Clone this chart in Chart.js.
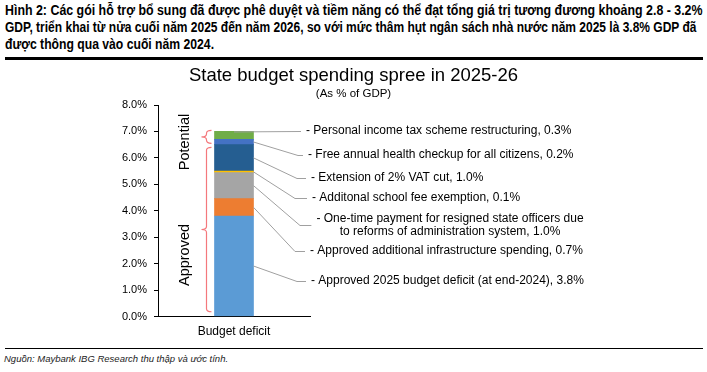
<!DOCTYPE html>
<html>
<head>
<meta charset="utf-8">
<script src="https://cdn.jsdelivr.net/npm/chart.js@4.4.1/dist/chart.umd.min.js"></script>
<style>
  body { margin: 0; background: #fff; }
  #page { position: relative; width: 707px; height: 372px; overflow: hidden; font-family: 'Liberation Sans', Arial, sans-serif; color: #000; }
  .hl { position: absolute; left: 5px; font: bold 14px 'Liberation Sans', Arial, sans-serif; line-height: 17px; white-space: nowrap; transform-origin: 0 0; }
  #rule1 { position: absolute; left: 5px; top: 57px; width: 698px; height: 3px; background: #000; }
  #title { position: absolute; left: 0; top: 64px; width: 707px; text-align: center; font-size: 18.5px; line-height: 22px; }
  #sub { position: absolute; left: 0; top: 86px; width: 707px; text-align: center; font-size: 11.5px; line-height: 14px; }
  #chart { position: absolute; left: 0; top: 60px; }
  #rule2 { position: absolute; left: 5px; top: 348px; width: 698px; height: 1px; background: #000; }
  #src { position: absolute; left: 4px; top: 353px; font-size: 9.5px; line-height: 12px; font-style: italic; color: #222; }
</style>
</head>
<body>
<div id="page">
  <div class="hl" style="top:2px; transform: scaleX(0.885);">Hình 2: Các gói hỗ trợ bổ sung đã được phê duyệt và tiềm năng có thể đạt tổng giá trị tương đương khoảng 2.8 - 3.2%</div>
  <div class="hl" style="top:19px; transform: scaleX(0.857);">GDP, triển khai từ nửa cuối năm 2025 đến năm 2026, so với mức thâm hụt ngân sách nhà nước năm 2025 là 3.8% GDP đã</div>
  <div class="hl" style="top:36px; transform: scaleX(0.87);">được thông qua vào cuối năm 2024.</div>
  <div id="rule1"></div>
  <canvas id="chart" width="707" height="285"></canvas>
  <div id="title">State budget spending spree in 2025-26</div>
  <div id="sub">(As % of GDP)</div>
  <div id="rule2"></div>
  <div id="src">Nguồn: Maybank IBG Research thu thập và ước tính.</div>
</div>
<script>
// du lieu doc tu hinh, tu duoi len tren
const categories = ['Budget deficit'];
const segmentValues = [3.8, 0.66, 0.98, 0.06, 1.0, 0.2, 0.3];
const segmentLabels = [
    ['- Approved 2025 budget deficit (at end-2024), 3.8%'],
    ['- Approved additional infrastructure spending, 0.7%'],
    ['- One-time payment for resigned state officers due', 'to reforms of administration system, 1.0%'],
    ['- Additonal school fee exemption, 0.1%'],
    ['- Extension of 2% VAT cut, 1.0%'],
    ['- Free annual health checkup for all citizens, 0.2%'],
    ['- Personal income tax scheme restructuring, 0.3%']
];
const segmentColors = ['#5B9BD5', '#ED7D31', '#A5A5A5', '#FFC000', '#255E91', '#4472C4', '#70AD47'];
const yTicks = [0, 1, 2, 3, 4, 5, 6, 7, 8];
const groupNames = ['Approved', 'Potential'];
const approvedCount = 5; // 5 phan dau la "Approved"

// vi tri chu thich (toa do canvas)
const callouts = [
    { x: 311, y: 221, elbow: 297 },
    { x: 310, y: 191, elbow: 295 },
    { x: 450, y: 165, elbow: 300, center: true },
    { x: 312, y: 138, elbow: 295 },
    { x: 311, y: 118, elbow: 297 },
    { x: 308, y: 95, elbow: 298 },
    { x: 306, y: 71, elbow: null }
];

Chart.defaults.font.family = "'Liberation Sans', Arial, sans-serif";
Chart.defaults.color = '#000';

const annotatePlugin = {
    id: 'annotate',
    afterDatasetsDraw(chart) {
        const ctx = chart.ctx;
        const yScale = chart.scales.y;
        ctx.save();

        // duong dan va nhan
        ctx.font = "12px 'Liberation Sans', Arial, sans-serif";
        ctx.textBaseline = 'middle';
        segmentValues.forEach((v, i) => {
            const bar = chart.getDatasetMeta(i).data[0];
            const c = callouts[i];
            const right = bar.x + bar.width / 2;
            const midY = (bar.y + bar.base) / 2;
            const lines = segmentLabels[i];
            const textLeft = c.center ? c.x - ctx.measureText(lines[0]).width / 2 : c.x;
            ctx.strokeStyle = '#A0A0A0';
            ctx.lineWidth = 1;
            ctx.beginPath();
            if (c.elbow === null) {
                ctx.moveTo(bar.x, bar.y + 0.5);
                ctx.lineTo(textLeft - 5, c.y + 0.5);
            } else {
                ctx.moveTo(right, midY);
                ctx.lineTo(c.elbow, c.y + 0.5);
                ctx.lineTo(textLeft - 5, c.y + 0.5);
            }
            ctx.stroke();

            ctx.fillStyle = '#000';
            if (lines.length === 1) {
                ctx.textAlign = 'left';
                ctx.fillText(lines[0], c.x, c.y);
            } else {
                ctx.textAlign = 'center';
                ctx.fillText(lines[0], c.x, c.y - 6);
                ctx.fillText(lines[1], c.x, c.y + 7);
            }
        });

        // ngoac nhon
        const bar0 = chart.getDatasetMeta(0).data[0];
        const barLeft = bar0.x - bar0.width / 2;
        const approvedTop = segmentValues.slice(0, approvedCount).reduce((a, b) => a + b, 0);
        const total = segmentValues.reduce((a, b) => a + b, 0);
        const bx = barLeft - 8;
        function brace(top, bottom) {
            const mid = (top + bottom) / 2;
            ctx.beginPath();
            ctx.moveTo(bx + 5, top);
            ctx.quadraticCurveTo(bx, top, bx, top + 3);
            ctx.lineTo(bx, mid - 3);
            ctx.quadraticCurveTo(bx, mid, bx - 5, mid);
            ctx.quadraticCurveTo(bx, mid, bx, mid + 3);
            ctx.lineTo(bx, bottom - 3);
            ctx.quadraticCurveTo(bx, bottom, bx + 5, bottom);
            ctx.stroke();
        }
        ctx.strokeStyle = '#F4787C';
        ctx.lineWidth = 1.2;
        brace(yScale.getPixelForValue(total) - 1, yScale.getPixelForValue(approvedTop + 0.05));
        brace(yScale.getPixelForValue(approvedTop - 0.1), yScale.getPixelForValue(0.18));

        // chu xoay
        ctx.fillStyle = '#000';
        ctx.font = "14.5px 'Liberation Sans', Arial, sans-serif";
        ctx.textAlign = 'center';
        ctx.textBaseline = 'middle';
        const textPos = [{ x: 185, y: 195 }, { x: 185, y: 82 }];
        groupNames.forEach((name, i) => {
            ctx.save();
            ctx.translate(textPos[i].x, textPos[i].y);
            ctx.rotate(-Math.PI / 2);
            ctx.fillText(name, 0, 0);
            ctx.restore();
        });
        ctx.restore();
    }
};

const ctx = document.getElementById('chart').getContext('2d');
new Chart(ctx, {
    type: 'bar',
    data: {
        labels: categories,
        datasets: segmentValues.map((v, i) => ({
            label: segmentLabels[i].join(' '),
            data: [v],
            backgroundColor: segmentColors[i],
            borderWidth: 0,
            barThickness: 39
        }))
    },
    options: {
        responsive: false,
        animation: false,
        layout: { padding: { left: 0, right: 397, top: 45, bottom: 0 } },
        plugins: {
            legend: { display: false },
            title: { display: false },
            tooltip: { enabled: false }
        },
        scales: {
            x: {
                stacked: true,
                grid: { display: false, drawTicks: false },
                border: { display: true, color: '#000' },
                ticks: { padding: 8, font: { size: 12 } },
                afterFit: s => { s.height = 28.5; }
            },
            y: {
                stacked: true,
                min: yTicks[0],
                max: yTicks[yTicks.length - 1],
                afterBuildTicks: s => { s.ticks = yTicks.map(v => ({ value: v })); },
                ticks: { callback: v => v.toFixed(1) + '%', padding: 7, font: { size: 11 } },
                grid: { drawOnChartArea: false, tickLength: 4, color: '#000' },
                border: { color: '#000' },
                afterFit: s => { s.width = 158; }
            }
        }
    },
    plugins: [annotatePlugin]
});
</script>
</body>
</html>
